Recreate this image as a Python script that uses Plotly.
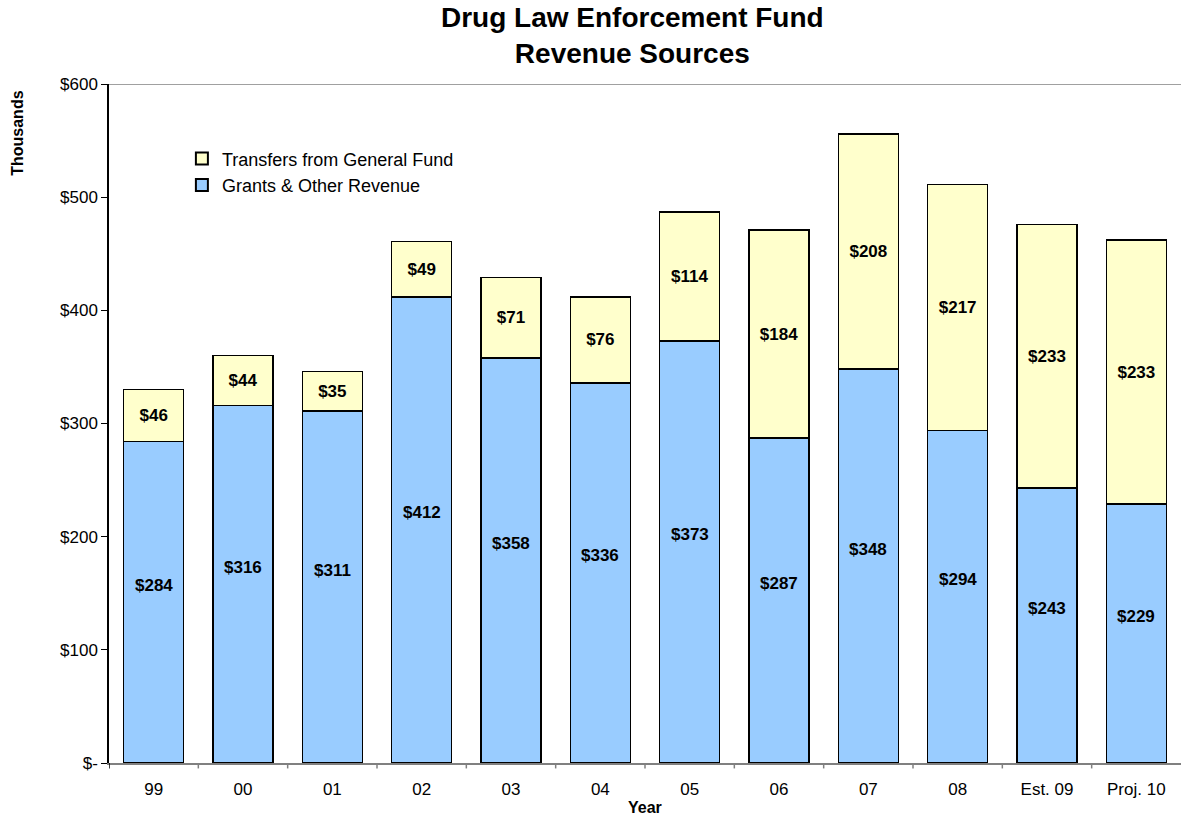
import plotly.graph_objects as go

years = ["99", "00", "01", "02", "03", "04", "05", "06", "07", "08", "Est. 09", "Proj. 10"]
grants = [284, 316, 311, 412, 358, 336, 373, 287, 348, 294, 243, 229]
transfers = [46, 44, 35, 49, 71, 76, 114, 184, 208, 217, 233, 233]
y_ticks = [0, 100, 200, 300, 400, 500, 600]
y_tick_text = ["$-", "$100", "$200", "$300", "$400", "$500", "$600"]

FONT = "Liberation Sans, Arial, sans-serif"
LABEL_FONT = dict(family=FONT, size=17, color="black", weight="bold")
x = list(range(len(years)))

fig = go.Figure()
fig.add_trace(go.Bar(
    x=x, y=grants, name="Grants & Other Revenue",
    marker=dict(color="#99CCFF", line=dict(color="black", width=1.5)),
))
fig.add_trace(go.Bar(
    x=x, y=transfers, name="Transfers from General Fund",
    marker=dict(color="#FFFFCC", line=dict(color="black", width=1.5)),
    text=[f"${v}" for v in transfers], textposition="inside",
    insidetextanchor="middle", constraintext="none",
    textfont=LABEL_FONT,
))

# value labels for the lower segment, set a little above its middle
for xi, v in zip(x, grants):
    fig.add_annotation(
        x=xi, y=v / 2, xref="x", yref="y", text=f"<b>${v}</b>",
        showarrow=False, yshift=17, font=LABEL_FONT,
    )

fig.update_layout(
    width=1181, height=819,
    barmode="stack", bargap=0.33,
    plot_bgcolor="white", paper_bgcolor="white",
    margin=dict(l=109, r=0, t=84, b=56),
    font=dict(family=FONT, size=17, color="black"),
    legend=dict(
        x=0.068, y=0.917, xanchor="left", yanchor="top",
        traceorder="reversed", bgcolor="rgba(0,0,0,0)",
        font=dict(family=FONT, size=18, color="black"),
        itemsizing="constant", tracegroupgap=0, itemwidth=30,
    ),
    showlegend=True,
)

fig.update_xaxes(
    tickmode="array", tickvals=x, ticktext=years,
    range=[-0.5, len(years) - 0.5],
    showline=True, linecolor="#808080", linewidth=1.5,
    ticks="", showgrid=False, zeroline=False, ticklabelstandoff=10,
    tickfont=dict(family=FONT, size=17, color="black"),
)
fig.update_yaxes(
    range=[0, 600], tickmode="array", tickvals=y_ticks, ticktext=y_tick_text,
    showline=True, linecolor="black", linewidth=1.5,
    ticks="outside", ticklen=6, tickcolor="black",
    showgrid=False, zeroline=False,
    tickfont=dict(family=FONT, size=17, color="black"),
)

# category separator ticks below the x axis
for i in range(len(years) - 1):
    fig.add_shape(type="line", xref="x", yref="paper",
                  x0=i + 0.5, x1=i + 0.5, y0=0, y1=-0.008,
                  line=dict(color="#808080", width=1.5))
fig.add_shape(type="line", xref="x", yref="paper",
              x0=-0.5, x1=-0.5, y0=0, y1=-0.008,
              line=dict(color="black", width=1.5))

# top border of the plot area
fig.add_shape(type="line", xref="paper", yref="y",
              x0=0, x1=1, y0=600, y1=600,
              line=dict(color="#A0A0A0", width=2))

# chart title
fig.add_annotation(
    text="<b>Drug Law Enforcement Fund<br>Revenue Sources</b>",
    xref="paper", yref="paper", x=0.488, y=1.072, xanchor="center", yanchor="middle",
    showarrow=False, font=dict(family=FONT, size=28, color="black"),
)
fig.add_annotation(
    text="<b>Thousands</b>", textangle=-90,
    xref="paper", yref="paper", x=-0.085, y=0.928, xanchor="center", yanchor="middle",
    showarrow=False, font=dict(family=FONT, size=16, color="black"),
)
fig.add_annotation(
    text="<b>Year</b>", xref="paper", yref="paper",
    x=0.5, y=-0.066, xanchor="center", yanchor="middle",
    showarrow=False, font=dict(family=FONT, size=16, color="black"),
)

fig.write_html("out.html")
